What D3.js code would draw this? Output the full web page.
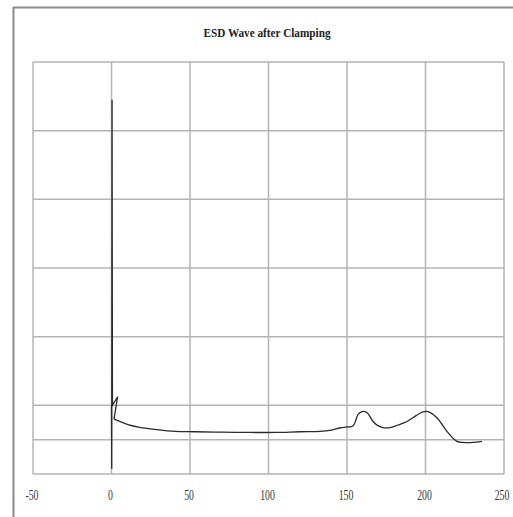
<!DOCTYPE html>
<html>
<head>
  <meta charset="utf-8">
  <script src="https://d3js.org/d3.v7.min.js"></script>
  <style>
    body { margin: 0; background: #fff; }
    svg { display: block; }
  </style>
</head>
<body>
<script>
// time axis (ns) and clamped voltage
var timeVals = [0, 0.15, 0.35, 0.6, 3.9, 1.6, 4.5, 10.5, 18, 27.7, 40.4, 53.2, 70, 88, 105, 120, 132.8,
  140, 145.5, 150, 153.8, 155.5, 157, 159.6, 162.7, 166.6, 170, 173, 177.4, 182, 188.2, 194,
  198.4, 201.6, 207.3, 213.7, 220, 223.9, 230.3, 236];
var voltVals = [0, -1.85, 8.9, 0.0, 0.25, -0.4, -0.45, -0.56, -0.64, -0.7, -0.76, -0.77, -0.78, -0.79, -0.79, -0.77, -0.76,
  -0.72, -0.66, -0.63, -0.6, -0.45, -0.27, -0.18, -0.21, -0.47, -0.6, -0.65, -0.65, -0.58, -0.47, -0.3,
  -0.19, -0.18, -0.36, -0.76, -1.05, -1.08, -1.08, -1.05];
var xTicks = [-50, 0, 50, 100, 150, 200, 250];
var yGrid = [-2, -1, 0, 2, 4, 6, 8, 10];
var title = "ESD Wave after Clamping";

var width = 513, height = 517;
var svg = d3.select("body").append("svg")
  .attr("width", width)
  .attr("height", height);

// outer frame (only top and left edges are visible)
svg.append("line").attr("x1", 13).attr("y1", 7.5).attr("x2", width).attr("y2", 7.5)
  .style("stroke", "#8a8a8a").style("stroke-width", 2);
svg.append("line").attr("x1", 13.5).attr("y1", 7).attr("x2", 13.5).attr("y2", height)
  .style("stroke", "#8a8a8a").style("stroke-width", 2);

var x = d3.scaleLinear().domain([-50, 250]).range([33, 504]);
var y = d3.scaleLinear().domain([-2, 10]).range([474, 62]);

// grid
svg.selectAll(".hgrid").data(yGrid).enter().append("line")
  .attr("x1", x(-50)).attr("x2", x(250))
  .attr("y1", function (d) { return y(d); })
  .attr("y2", function (d) { return y(d); })
  .style("stroke", "#b4b4b4").style("stroke-width", 1.5);

svg.selectAll(".vgrid").data(xTicks).enter().append("line")
  .attr("x1", function (d) { return x(d); })
  .attr("x2", function (d) { return x(d); })
  .attr("y1", y(10)).attr("y2", y(-2))
  .style("stroke", "#b4b4b4").style("stroke-width", 1.5);

// tick labels, squeezed horizontally like the narrow font of the original
svg.selectAll(".xlab").data(xTicks).enter().append("text")
  .attr("transform", function (d, i) {
    var px = x(d) - (i === xTicks.length - 1 ? 2 : 1);
    return "translate(" + px + ",500) scale(0.65,1)";
  })
  .attr("text-anchor", "middle")
  .style("font-family", "Liberation Serif, serif")
  .style("font-size", "15px")
  .style("fill", "#333")
  .text(function (d) { return d; });

// title
svg.append("text")
  .attr("x", 267)
  .attr("y", 37)
  .attr("text-anchor", "middle")
  .attr("textLength", 127)
  .attr("lengthAdjust", "spacingAndGlyphs")
  .style("font-family", "Liberation Serif, serif")
  .style("font-weight", "bold")
  .style("font-size", "13px")
  .style("fill", "#222")
  .text(title);

// waveform: the fast spike is drawn straight, the slow tail smoothed
var pts = timeVals.map(function (t, i) { return [t, voltVals[i]]; });
var spikeLine = d3.line()
  .x(function (d) { return x(d[0]); })
  .y(function (d) { return y(d[1]); });
var tailLine = d3.line()
  .x(function (d) { return x(d[0]); })
  .y(function (d) { return y(d[1]); })
  .curve(d3.curveCatmullRom.alpha(0.5));

svg.append("path")
  .datum(pts.slice(0, 6))
  .attr("d", spikeLine)
  .style("fill", "none")
  .style("stroke", "#2a2a2a")
  .style("stroke-width", 1.3);

svg.append("path")
  .datum(pts.slice(5))
  .attr("d", tailLine)
  .style("fill", "none")
  .style("stroke", "#2a2a2a")
  .style("stroke-width", 1.3);
</script>
</body>
</html>
